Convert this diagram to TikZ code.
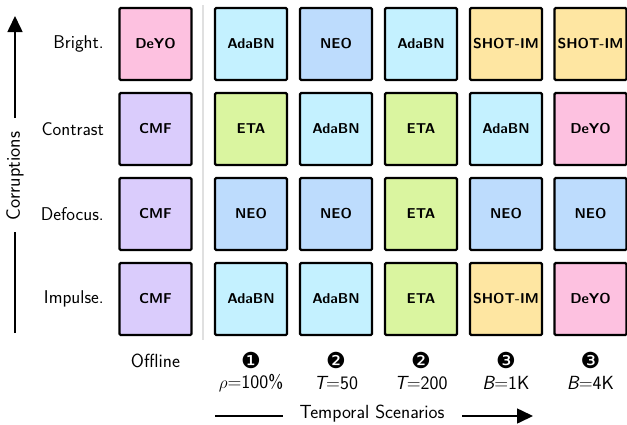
\documentclass[tikz,border=0pt]{standalone}
\usepackage{fontspec}
\newfontfamily\dingfont{DejaVu Sans}
\usetikzlibrary{arrows.meta}
\definecolor{cDeYO}{HTML}{FDC1E0}
\definecolor{cCMF}{HTML}{DACCFC}
\definecolor{cAda}{HTML}{C4F1FF}
\definecolor{cNEO}{HTML}{BDDCFD}
\definecolor{cETA}{HTML}{DAF5A0}
\definecolor{cSHOT}{HTML}{FEE6A2}
\tikzset{
  cell/.style={draw=black, line width=2.2pt, rounded corners=1.2pt,
    minimum width=72pt, minimum height=72pt, inner sep=0pt,
    font=\fontsize{14.3}{16}\selectfont\sffamily\bfseries},
  rowlab/.style={anchor=east, inner sep=0pt, font=\fontsize{18.5}{20}\selectfont\sffamily},
  collab/.style={inner sep=0pt, font=\fontsize{19}{21}\selectfont\sffamily},
  badge/.style={inner sep=0pt, font=\fontsize{22}{24}\selectfont\dingfont},
  axis/.style={line width=1.6pt},
  axisarrow/.style={axis, -{Triangle[length=16pt,width=15pt]}},
}
\begin{document}
\begin{tikzpicture}[x=1pt,y=-1pt]
\useasboundingbox (0,0) rectangle (627,424);

% separator between the offline column and the temporal scenarios
\draw[line width=2pt, black!12] (203,5) -- (203,340);

% row labels
\node[rowlab] (r1) at (104,44)  {Bright.};
\node[rowlab] (r2) at (104,129) {Contrast};
\node[rowlab] (r3) at (104,214) {Defocus.};
\node[rowlab] (r4) at (104,299) {Impulse.};

% offline column
\node[cell, fill=cDeYO] (a1) at (155.5,44)  {DeYO};
\node[cell, fill=cCMF]  (a2) at (155.5,129) {CMF};
\node[cell, fill=cCMF]  (a3) at (155.5,214) {CMF};
\node[cell, fill=cCMF]  (a4) at (155.5,299) {CMF};

% rho = 100%
\node[cell, fill=cAda] (b1) at (251,44)  {AdaBN};
\node[cell, fill=cETA] (b2) at (251,129) {ETA};
\node[cell, fill=cNEO] (b3) at (251,214) {NEO};
\node[cell, fill=cAda] (b4) at (251,299) {AdaBN};

% T = 50
\node[cell, fill=cNEO] (c1) at (336,44)  {NEO};
\node[cell, fill=cAda] (c2) at (336,129) {AdaBN};
\node[cell, fill=cNEO] (c3) at (336,214) {NEO};
\node[cell, fill=cAda] (c4) at (336,299) {AdaBN};

% T = 200
\node[cell, fill=cAda] (d1) at (421,44)  {AdaBN};
\node[cell, fill=cETA] (d2) at (421,129) {ETA};
\node[cell, fill=cETA] (d3) at (421,214) {ETA};
\node[cell, fill=cETA] (d4) at (421,299) {ETA};

% B = 1K
\node[cell, fill=cSHOT] (e1) at (506,44)  {SHOT-IM};
\node[cell, fill=cAda]  (e2) at (506,129) {AdaBN};
\node[cell, fill=cNEO]  (e3) at (506,214) {NEO};
\node[cell, fill=cSHOT] (e4) at (506,299) {SHOT-IM};

% B = 4K
\node[cell, fill=cSHOT] (f1) at (590.5,44)  {SHOT-IM};
\node[cell, fill=cDeYO] (f2) at (590.5,129) {DeYO};
\node[cell, fill=cNEO]  (f3) at (590.5,214) {NEO};
\node[cell, fill=cDeYO] (f4) at (590.5,299) {DeYO};

% column labels
\node[collab] (la) at (155.5,361) {Offline};
\node[badge]  (nb) at (251,360) {❶};
\node[badge]  (nc) at (336,360) {❷};
\node[badge]  (nd) at (421,360) {❷};
\node[badge]  (ne) at (506,360) {❸};
\node[badge]  (nf) at (590.5,360) {❸};
\node[collab] (lb) at (251,383) {$\rho$=100\%};
\node[collab] (lc) at (336,383) {\itshape T\upshape=50};
\node[collab] (ld) at (421,383) {\itshape T\upshape=200};
\node[collab] (le) at (506,383) {\itshape B\upshape=1K};
\node[collab] (lf) at (590.5,383) {\itshape B\upshape=4K};

% vertical axis: corruptions
\node[collab, rotate=90, font=\fontsize{19.5}{21}\selectfont\sffamily] (corr) at (15,176) {Corruptions};
\coordinate (vb) at (15,333);
\coordinate (vl) at (15,232);
\coordinate (vu) at (15,118);
\coordinate (vt) at (15,16);
\draw[axis] (vb) -- (vl);
\draw[axisarrow] (vu) -- (vt);

% horizontal axis: temporal scenarios
\node[collab] (temp) at (372,414) {Temporal Scenarios};
\coordinate (hl) at (215,416);
\coordinate (hm) at (283,416);
\coordinate (hn) at (462,416);
\coordinate (hr) at (533,416);
\draw[axis] (hl) -- (hm);
\draw[axisarrow] (hn) -- (hr);
\end{tikzpicture}
\end{document}
